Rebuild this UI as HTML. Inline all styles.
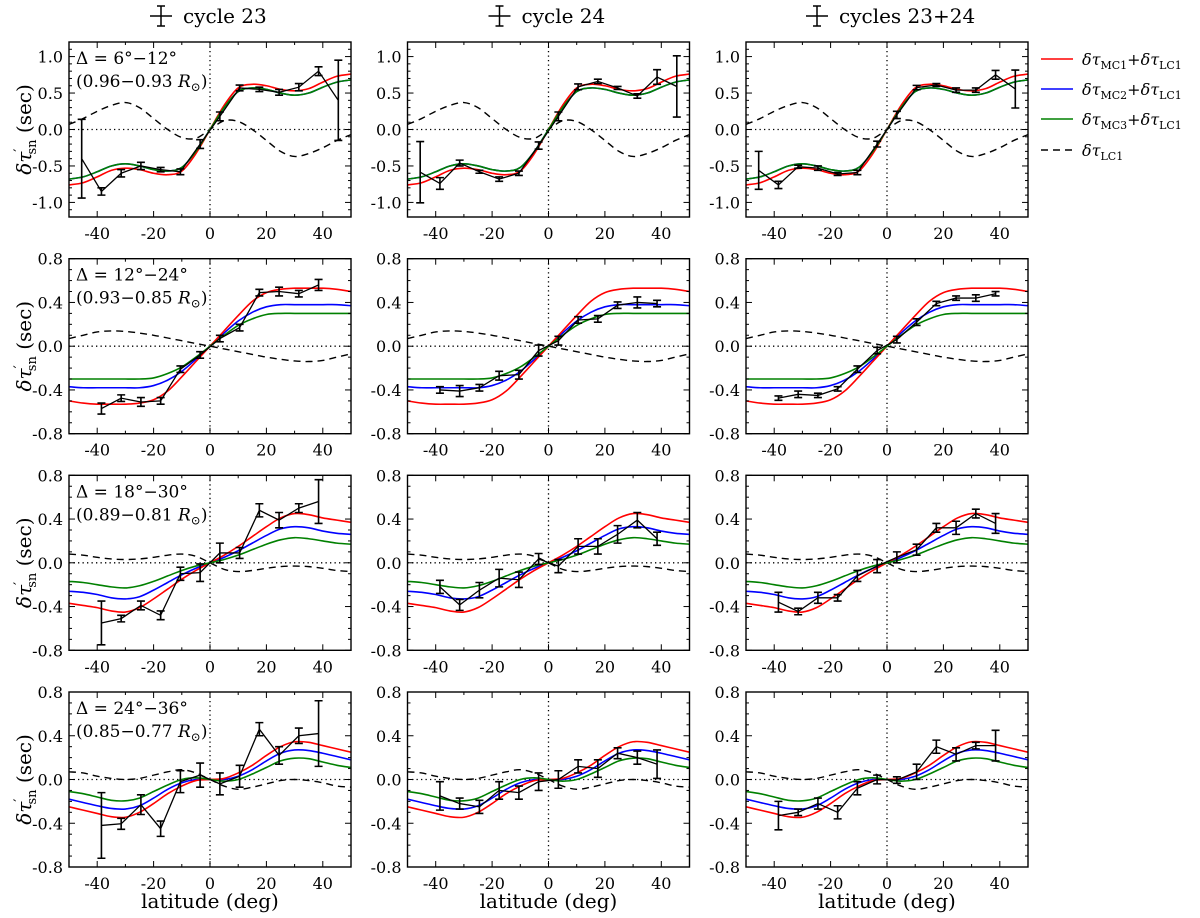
<!DOCTYPE html>
<html><head><meta charset="utf-8"><style>
html,body{margin:0;padding:0;background:#fff;}
svg{display:block;font-family:"DejaVu Serif","Liberation Serif",serif;}
</style></head><body>
<svg id="fig" width="1200" height="918" viewBox="0 0 1200 918" xmlns="http://www.w3.org/2000/svg"></svg>
<script>
// ---- data ----
const modelLats = [-50,-45,-40,-35,-30,-25,-20,-15,-10,-5,0,5,10,15,20,25,30,35,40,45,50];
const colTitles = ["cycle 23","cycle 24","cycles 23+24"];
const rowAnnot1 = ["Δ = 6°−12°","Δ = 12°−24°","Δ = 18°−30°","Δ = 24°−36°"];
const rowAnnot2 = ["(0.96−0.93 ","(0.93−0.85 ","(0.89−0.81 ","(0.85−0.77 "];
const yLimits = [1.2,0.8,0.8,0.8];
const yTickVals0 = [1.0,0.5,0.0,-0.5,-1.0];
const yTickLabels0 = ["1.0","0.5","0.0","-0.5","-1.0"];
const yTickVals = [0.8,0.4,0.0,-0.4,-0.8];
const yTickLabels = ["0.8","0.4","0.0","-0.4","-0.8"];
const xTickVals = [-40,-20,0,20,40];
const xTickLabels = ["-40","-20","0","20","40"];

const red0 = [-0.76,-0.73,-0.65,-0.56,-0.53,-0.55,-0.6,-0.62,-0.57,-0.33,0,0.33,0.57,0.62,0.6,0.55,0.53,0.56,0.65,0.73,0.76];
const green0 = [-0.68,-0.65,-0.58,-0.5,-0.47,-0.5,-0.55,-0.57,-0.52,-0.3,0,0.3,0.52,0.57,0.55,0.5,0.47,0.5,0.58,0.65,0.68];
const blue0 = [-0.68,-0.65,-0.58,-0.5,-0.47,-0.5,-0.55,-0.57,-0.52,-0.3,0,0.3,0.52,0.57,0.55,0.5,0.47,0.5,0.58,0.65,0.68];
const dash0 = [0.07,0.15,0.25,0.33,0.37,0.3,0.15,0.0,-0.11,-0.12,0,0.12,0.11,0.0,-0.15,-0.3,-0.37,-0.33,-0.25,-0.15,-0.07];

const red1 = [-0.5,-0.52,-0.53,-0.53,-0.53,-0.52,-0.49,-0.41,-0.28,-0.14,0,0.14,0.28,0.41,0.49,0.52,0.53,0.53,0.53,0.52,0.5];
const blue1 = [-0.37,-0.38,-0.38,-0.38,-0.38,-0.38,-0.36,-0.31,-0.23,-0.12,0,0.12,0.23,0.31,0.36,0.38,0.38,0.38,0.38,0.38,0.37];
const green1 = [-0.3,-0.3,-0.3,-0.3,-0.3,-0.3,-0.29,-0.25,-0.19,-0.1,0,0.1,0.19,0.25,0.29,0.3,0.3,0.3,0.3,0.3,0.3];
const dash1 = [0.07,0.1,0.13,0.14,0.135,0.12,0.1,0.075,0.05,0.025,0,-0.025,-0.05,-0.075,-0.1,-0.12,-0.135,-0.14,-0.13,-0.1,-0.07];

const red2 = [-0.37,-0.39,-0.41,-0.44,-0.45,-0.41,-0.33,-0.24,-0.15,-0.07,0,0.07,0.15,0.24,0.33,0.41,0.45,0.44,0.41,0.39,0.37];
const blue2 = [-0.26,-0.27,-0.29,-0.32,-0.33,-0.31,-0.25,-0.18,-0.11,-0.05,0,0.05,0.11,0.18,0.25,0.31,0.33,0.32,0.29,0.27,0.26];
const green2 = [-0.17,-0.18,-0.2,-0.22,-0.23,-0.21,-0.17,-0.12,-0.07,-0.03,0,0.03,0.07,0.12,0.17,0.21,0.23,0.22,0.2,0.18,0.17];
const dash2 = [0.08,0.07,0.05,0.035,0.03,0.035,0.05,0.07,0.08,0.06,0,-0.06,-0.08,-0.07,-0.05,-0.035,-0.03,-0.035,-0.05,-0.07,-0.08];

const red3 = [-0.25,-0.28,-0.31,-0.34,-0.345,-0.3,-0.22,-0.13,-0.06,-0.01,0,0.01,0.06,0.13,0.22,0.3,0.345,0.34,0.31,0.28,0.25];
const blue3 = [-0.18,-0.21,-0.24,-0.265,-0.27,-0.24,-0.17,-0.09,-0.03,0,0,0,0.03,0.09,0.17,0.24,0.27,0.265,0.24,0.21,0.18];
const green3 = [-0.11,-0.13,-0.16,-0.19,-0.195,-0.17,-0.11,-0.05,0,0.015,0,-0.015,0,0.05,0.11,0.17,0.195,0.19,0.16,0.13,0.11];
const dash3 = [0.07,0.06,0.03,0.01,0,0.01,0.04,0.07,0.09,0.06,0,-0.06,-0.09,-0.07,-0.04,-0.01,0,-0.01,-0.03,-0.06,-0.07];

const latsRow0 = [-45.5,-38.5,-31.5,-24.5,-17.5,-10.5,-3.5,3.5,10.5,17.5,24.5,31.5,38.5,45.5];
const latsRows = [-38.5,-31.5,-24.5,-17.5,-10.5,-3.5,3.5,10.5,17.5,24.5,31.5,38.5];

const val00 = [-0.4,-0.85,-0.6,-0.5,-0.55,-0.58,-0.2,0.18,0.57,0.55,0.51,0.58,0.8,0.4];
const err00 = [0.54,0.05,0.05,0.05,0.03,0.04,0.06,0.06,0.04,0.03,0.04,0.05,0.06,0.55];
const val01 = [-0.585,-0.74,-0.46,-0.58,-0.68,-0.6,-0.22,0.18,0.585,0.66,0.57,0.46,0.72,0.59];
const err01 = [0.42,0.08,0.04,0.02,0.03,0.03,0.05,0.06,0.04,0.03,0.02,0.03,0.1,0.42];
const val02 = [-0.56,-0.76,-0.51,-0.53,-0.61,-0.59,-0.2,0.2,0.575,0.61,0.54,0.54,0.75,0.555];
const err02 = [0.26,0.05,0.02,0.03,0.02,0.03,0.04,0.05,0.03,0.02,0.03,0.03,0.06,0.26];

const val10 = [-0.57,-0.475,-0.51,-0.5,-0.21,-0.08,0.07,0.17,0.49,0.5,0.48,0.56];
const err10 = [0.05,0.03,0.04,0.03,0.03,0.03,0.03,0.03,0.03,0.04,0.03,0.05];
const val11 = [-0.4,-0.41,-0.38,-0.27,-0.26,-0.04,0.05,0.24,0.25,0.375,0.4,0.39];
const err11 = [0.03,0.05,0.03,0.04,0.04,0.05,0.04,0.03,0.03,0.03,0.05,0.03];
const val12 = [-0.475,-0.44,-0.45,-0.39,-0.21,-0.04,0.06,0.22,0.39,0.44,0.44,0.48];
const err12 = [0.02,0.03,0.02,0.02,0.03,0.03,0.03,0.03,0.02,0.02,0.03,0.02];

const val20 = [-0.55,-0.51,-0.39,-0.48,-0.1,-0.09,0.09,0.09,0.48,0.39,0.5,0.56];
const err20 = [0.2,0.03,0.04,0.04,0.06,0.08,0.09,0.05,0.06,0.07,0.04,0.2];
const val21 = [-0.22,-0.385,-0.25,-0.14,-0.155,0.035,-0.03,0.15,0.15,0.26,0.39,0.22];
const err21 = [0.06,0.05,0.07,0.08,0.07,0.05,0.06,0.07,0.07,0.08,0.07,0.06];
const val22 = [-0.36,-0.445,-0.32,-0.32,-0.12,-0.03,0.05,0.12,0.32,0.32,0.45,0.36];
const err22 = [0.09,0.03,0.05,0.03,0.05,0.06,0.05,0.05,0.04,0.06,0.04,0.09];

const val30 = [-0.42,-0.405,-0.23,-0.45,-0.02,0.04,-0.04,0.03,0.46,0.22,0.4,0.42];
const err30 = [0.3,0.05,0.09,0.07,0.1,0.11,0.1,0.1,0.06,0.08,0.07,0.3];
const val31 = [-0.15,-0.22,-0.25,-0.1,-0.12,-0.02,0.0,0.12,0.1,0.24,0.2,0.14];
const err31 = [0.13,0.05,0.06,0.08,0.06,0.08,0.08,0.06,0.08,0.05,0.06,0.13];
const val32 = [-0.33,-0.3,-0.22,-0.3,-0.08,0.0,-0.005,0.07,0.3,0.23,0.31,0.31];
const err32 = [0.13,0.03,0.05,0.06,0.06,0.04,0.03,0.07,0.06,0.06,0.03,0.14];

// ---- layout ----
const svg = document.getElementById('fig');
const NS = "http://www.w3.org/2000/svg";
const COLX = [69,407.5,746], PW = 282, ROWY = [42,258.7,475.3,692], PH = 175;
function mk(tag, attrs, parent){const e=document.createElementNS(NS,tag);for(const k in attrs)e.setAttribute(k,attrs[k]);(parent||svg).appendChild(e);return e;}
function smoothPath(pts){
  let d="M"+pts[0][0].toFixed(2)+","+pts[0][1].toFixed(2);
  for(let i=0;i<pts.length-1;i++){
    const p0=pts[Math.max(0,i-1)],p1=pts[i],p2=pts[i+1],p3=pts[Math.min(pts.length-1,i+2)];
    const c1x=p1[0]+(p2[0]-p0[0])/6,c1y=p1[1]+(p2[1]-p0[1])/6;
    const c2x=p2[0]-(p3[0]-p1[0])/6,c2y=p2[1]-(p3[1]-p1[1])/6;
    d+=" C"+c1x.toFixed(2)+","+c1y.toFixed(2)+" "+c2x.toFixed(2)+","+c2y.toFixed(2)+" "+p2[0].toFixed(2)+","+p2[1].toFixed(2);
  }
  return d;
}
const models = [[red0,blue0,green0,dash0],[red1,blue1,green1,dash1],[red2,blue2,green2,dash2],[red3,blue3,green3,dash3]];
const vals = [[val00,val01,val02],[val10,val11,val12],[val20,val21,val22],[val30,val31,val32]];
const errs = [[err00,err01,err02],[err10,err11,err12],[err20,err21,err22],[err30,err31,err32]];

// column titles
for(let c=0;c<3;c++){
  const cx=COLX[c]+PW/2;
  const g=mk('g',{});
  
  
  const w = colTitles[c].length*10.5+30;
  const sx = cx - w/2 + 8;
  mk('line',{x1:sx,y1:6,x2:sx,y2:26,stroke:'#000','stroke-width':1.5},g);
  mk('line',{x1:sx-4,y1:6,x2:sx+4,y2:6,stroke:'#000','stroke-width':1.5},g);
  mk('line',{x1:sx-4,y1:26,x2:sx+4,y2:26,stroke:'#000','stroke-width':1.5},g);
  mk('line',{x1:sx-11,y1:16,x2:sx+11,y2:16,stroke:'#000','stroke-width':1.5},g);
  const t=mk('text',{x:sx+22,y:23,'font-size':20},g);t.textContent=colTitles[c];
}

for(let r=0;r<4;r++){
  const yl=yLimits[r];
  const Y=v=>ROWY[r]+PH/2 - v/yl*(PH/2);
  const yt=mk('text',{x:0,y:0,'font-size':20,'text-anchor':'middle',transform:`translate(31,${ROWY[r]+PH/2}) rotate(-90)`});
  
  
  yt.innerHTML='<tspan font-style="italic">δτ</tspan><tspan dy="-7" font-size="14">′</tspan><tspan dy="12" font-size="13" dx="-6">sn</tspan><tspan dy="-5"> (sec)</tspan>';
  for(let c=0;c<3;c++){
    const x0=COLX[c];
    const X=v=>x0+(v+50)/100*PW;
    const g=mk('g',{});
    
    
    const cid=`clip${r}${c}`;
    const cp=mk('clipPath',{id:cid},g);mk('rect',{x:x0,y:ROWY[r],width:PW,height:PH},cp);
    mk('line',{x1:x0,x2:x0+PW,y1:Y(0),y2:Y(0),stroke:'#000','stroke-width':1.3,'stroke-dasharray':'1.3,3.2'},g);
    mk('line',{x1:X(0),x2:X(0),y1:ROWY[r],y2:ROWY[r]+PH,stroke:'#000','stroke-width':1.3,'stroke-dasharray':'1.3,3.2'},g);
    const cg=mk('g',{'clip-path':`url(#${cid})`},g);
    const m=models[r];
    const styles=[['#ff0000','model-mc1-lc1'],['#0000ff','model-mc2-lc1'],['#008000','model-mc3-lc1']];
    let pts=modelLats.map((la,i)=>[X(la),Y(m[3][i])]);
    const dp=mk('path',{d:smoothPath(pts),fill:'none',stroke:'#000','stroke-width':1.4,'stroke-dasharray':'7,5'},cg);
    
    
    const order=[1,0,2];
    for(const k of order){
      pts=modelLats.map((la,i)=>[X(la),Y(m[k][i])]);
      const p=mk('path',{d:smoothPath(pts),fill:'none',stroke:styles[k][0],'stroke-width':1.6},cg);
      
      
    }
    const lats = r===0?latsRow0:latsRows;
    const v=vals[r][c], e=errs[r][c];
    const pl=mk('polyline',{points:lats.map((la,i)=>X(la)+','+Y(v[i])).join(' '),fill:'none',stroke:'#000','stroke-width':1.3},cg);
    
    
    for(let i=0;i<lats.length;i++){
      const xx=X(lats[i]),y1=Y(v[i]+e[i]),y2=Y(v[i]-e[i]);
      const eb=mk('path',{d:`M${xx},${y1}L${xx},${y2}M${xx-4},${y1}L${xx+4},${y1}M${xx-4},${y2}L${xx+4},${y2}`,stroke:'#000','stroke-width':1.6,fill:'none'},cg);
      
      
    }
    mk('rect',{x:x0,y:ROWY[r],width:PW,height:PH,fill:'none',stroke:'#000','stroke-width':1.4},g);
    for(let t=-50;t<=50;t+=10){
      const len = t%20===0?6:3;
      mk('line',{x1:X(t),x2:X(t),y1:ROWY[r]+PH,y2:ROWY[r]+PH-len,stroke:'#000','stroke-width':1},g);
      mk('line',{x1:X(t),x2:X(t),y1:ROWY[r],y2:ROWY[r]+len,stroke:'#000','stroke-width':1},g);
    }
    for(let t=-Math.round(yl*10);t<=Math.round(yl*10);t++){
      const yv=t/10, maj=(r===0? t%5===0 : t%4===0);
      const len=maj?6:3;
      mk('line',{x1:x0,x2:x0+len,y1:Y(yv),y2:Y(yv),stroke:'#000','stroke-width':1},g);
      mk('line',{x1:x0+PW,x2:x0+PW-len,y1:Y(yv),y2:Y(yv),stroke:'#000','stroke-width':1},g);
    }
    const tv = r===0?yTickVals0:yTickVals, tl = r===0?yTickLabels0:yTickLabels;
    for(let i=0;i<tv.length;i++){
      const t=mk('text',{x:x0-6,y:Y(tv[i])+6,'font-size':16,'text-anchor':'end'},g);t.textContent=tl[i];
    }
    for(let i=0;i<xTickVals.length;i++){
      const t=mk('text',{x:X(xTickVals[i]),y:ROWY[r]+PH+22,'font-size':16,'text-anchor':'middle'},g);t.textContent=xTickLabels[i];
    }
    if(c===0){
      const a1=mk('text',{x:x0+7,y:ROWY[r]+22,'font-size':17},g);a1.textContent=rowAnnot1[r];
      
      
      const a2=mk('text',{x:x0+7,y:ROWY[r]+45,'font-size':17},g);
      a2.innerHTML=rowAnnot2[r]+'<tspan font-style="italic">R</tspan><tspan font-size="12" dy="4">⊙</tspan><tspan dy="-4">)</tspan>';
      
      
    }
    if(r===3){
      const xl=mk('text',{x:x0+PW/2,y:908,'font-size':20,'text-anchor':'middle'},g);xl.textContent='latitude (deg)';
      
      
    }
  }
}
// legend
const legColors=['#ff0000','#0000ff','#008000','#000'];
const legSubs=['MC1','MC2','MC3'];
const legY=[59,89,119,150];
for(let i=0;i<4;i++){
  const g=mk('g',{});
  
  
  const ln=mk('line',{x1:1041,x2:1073,y1:legY[i],y2:legY[i],stroke:legColors[i],'stroke-width':1.6},g);
  if(i===3) ln.setAttribute('stroke-dasharray','7,5');
  const t=mk('text',{x:1082,y:legY[i]+6,'font-size':16},g);
  if(i<3) t.innerHTML='<tspan font-style="italic">δτ</tspan><tspan font-size="11" dy="4">'+legSubs[i]+'</tspan><tspan dy="-4">+</tspan><tspan font-style="italic">δτ</tspan><tspan font-size="11" dy="4">LC1</tspan>';
  else t.innerHTML='<tspan font-style="italic">δτ</tspan><tspan font-size="11" dy="4">LC1</tspan>';
}
</script>
</body></html>
